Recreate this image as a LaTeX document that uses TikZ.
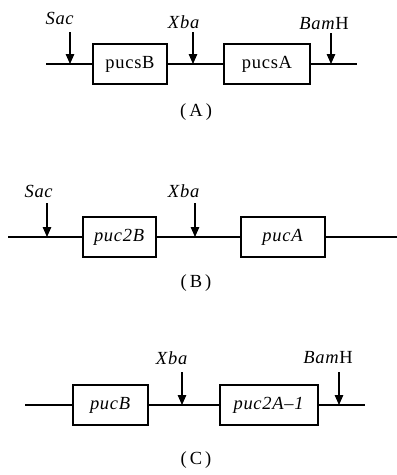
\documentclass[tikz,border=0pt]{standalone}
\usepackage{fontspec}
\setmainfont{Liberation Serif}
\usetikzlibrary{arrows.meta, positioning}

\begin{document}
\begin{tikzpicture}[
    x=1pt, y=-1pt,
    font=\fontsize{18.5}{22}\selectfont\addfontfeature{LetterSpace=4},
    gene/.style={rectangle, draw, line width=1.2pt, minimum height=40pt, inner sep=0pt},
    site/.style={inner sep=0pt},
    dna/.style={line width=1.3pt},
    cut/.style={-{Triangle[width=8.5pt,length=10pt]}, line width=1.2pt}
]
    \useasboundingbox (0,0) rectangle (397,475);

    % (A)
    \node[gene, minimum width=74pt] (pucsB) at (130,64) {pucsB};
    \node[gene, minimum width=86pt] (pucsA) at (267,64) {pucsA};
    \coordinate (a-start) at (46,64);
    \coordinate (a-end) at (357,64);
    \node[site] (a-sac) at (60,18) {\textit{Sac}};
    \node[site] (a-xba) at (184,22) {\textit{Xba}};
    \node[site] (a-bam) at (324,24) {\textit{Bam}H};
    \coordinate (a-sac-top) at (70,32);  \coordinate (a-sac-cut) at (70,64);
    \coordinate (a-xba-top) at (193,32); \coordinate (a-xba-cut) at (193,64);
    \coordinate (a-bam-top) at (331,33); \coordinate (a-bam-cut) at (331,64);
    \node[site] (capA) at (196,112) {(\,A\,)};

    \draw[dna] (a-start) -- (pucsB.west);
    \draw[dna] (pucsB.east) -- (pucsA.west);
    \draw[dna] (pucsA.east) -- (a-end);
    \draw[cut] (a-sac-top) -- (a-sac-cut);
    \draw[cut] (a-xba-top) -- (a-xba-cut);
    \draw[cut] (a-bam-top) -- (a-bam-cut);

    % (B)
    \node[gene, minimum width=73pt] (puc2B) at (119.5,237) {\textit{puc2B}};
    \node[gene, minimum width=84pt] (pucA) at (283,237) {\textit{pucA}};
    \coordinate (b-start) at (8,237);
    \coordinate (b-end) at (397,237);
    \node[site] (b-sac) at (39,191) {\textit{Sac}};
    \node[site] (b-xba) at (184,191) {\textit{Xba}};
    \coordinate (b-sac-top) at (47,203);  \coordinate (b-sac-cut) at (47,237);
    \coordinate (b-xba-top) at (195,203); \coordinate (b-xba-cut) at (195,237);
    \node[site] (capB) at (196,283) {(\,B\,)};

    \draw[dna] (b-start) -- (puc2B.west);
    \draw[dna] (puc2B.east) -- (pucA.west);
    \draw[dna] (pucA.east) -- (b-end);
    \draw[cut] (b-sac-top) -- (b-sac-cut);
    \draw[cut] (b-xba-top) -- (b-xba-cut);

    % (C)
    \node[gene, minimum width=75pt] (pucB) at (110.5,405) {\textit{pucB}};
    \node[gene, minimum width=98pt] (puc2A) at (269,405) {\textit{puc2A\textendash1}};
    \coordinate (c-start) at (25,405);
    \coordinate (c-end) at (365,405);
    \node[site] (c-xba) at (172,358) {\textit{Xba}};
    \node[site] (c-bam) at (328,358) {\textit{Bam}H};
    \coordinate (c-xba-top) at (182,372); \coordinate (c-xba-cut) at (182,405);
    \coordinate (c-bam-top) at (339,372); \coordinate (c-bam-cut) at (339,405);
    \node[site] (capC) at (196,460) {(\,C\,)};

    \draw[dna] (c-start) -- (pucB.west);
    \draw[dna] (pucB.east) -- (puc2A.west);
    \draw[dna] (puc2A.east) -- (c-end);
    \draw[cut] (c-xba-top) -- (c-xba-cut);
    \draw[cut] (c-bam-top) -- (c-bam-cut);
\end{tikzpicture}
\end{document}
